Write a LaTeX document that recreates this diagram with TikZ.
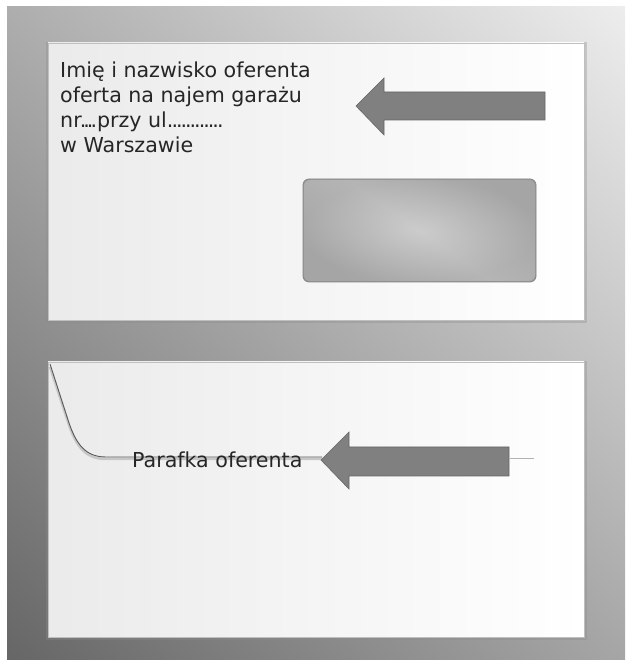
\documentclass[tikz,border=0pt]{standalone}
\usepackage{fontspec}
\setmainfont{DejaVu Sans}
\usetikzlibrary{shadings}
\newcommand\dts[2]{\foreach \i in {1,...,#1}{.\kern-#2pt}\kern#2pt}
\begin{document}
\begin{tikzpicture}[x=1pt,y=1pt,
  envelope/.style={draw=gray!50,line width=0.5pt},
  label/.style={inner sep=0pt,text=black!85,font=\fontsize{20.6}{25}\selectfont},
  arrowshape/.style={fill=black!50,draw=black!60,line width=0.6pt,line join=miter}]
\useasboundingbox (0,0) rectangle (625,660);
\fill[white] (0,0) rectangle (625,660);
% background
\shade[upper left=black!32,upper right=black!7,lower left=black!60,lower right=black!35] (7,0) rectangle (625,653);
% shadows
\fill[black!45,opacity=0.35] (46,337) rectangle (587,618);
\fill[black!45,opacity=0.35] (46,20) rectangle (587,299);
% top envelope
\shade[envelope,left color=black!8,right color=white] (48,340) rectangle (584,617);
% window
\shade[draw=black!48,line width=0.8pt,rounded corners=6pt,inner color=black!22,outer color=black!40] (303,378) rectangle (536,481);
\shade[rounded corners=6pt,top color=black!30,bottom color=black!30,middle color=black!18,shading angle=-35,opacity=0.5] (304,379) rectangle (535,480);
% top text
\node[label,anchor=north west,align=left] (addr) at (60,598)
  {Imię i nazwisko oferenta\\oferta na najem garażu\\nr\dts{4}{3}przy ul\dts{12}{2}\\w Warszawie};
% top arrow
\filldraw[arrowshape] (356,554) -- (384,582) -- (384,568) -- (545,568) -- (545,540) -- (384,540) -- (384,525) -- cycle;
% bottom envelope
\shade[envelope,left color=black!8,right color=white] (48,23) rectangle (584,298);
% flap
\draw[black!22,line width=2.5pt] (50,293) -- (68,238) .. controls (76,213) and (86,201) .. (106,201) -- (322,201);
\draw[black!65,line width=0.9pt] (50,296) -- (68,240) .. controls (76,215) and (86,203) .. (106,203) -- (322,203);
\draw[black!30,line width=0.8pt] (510,202) -- (534,202);
% bottom text
\node[label,anchor=base west] (paraf) at (132,192) {Parafka oferenta};
% bottom arrow
\filldraw[arrowshape] (321,200) -- (349,228) -- (349,213) -- (509,213) -- (509,184) -- (349,184) -- (349,171) -- cycle;
\end{tikzpicture}
\end{document}
